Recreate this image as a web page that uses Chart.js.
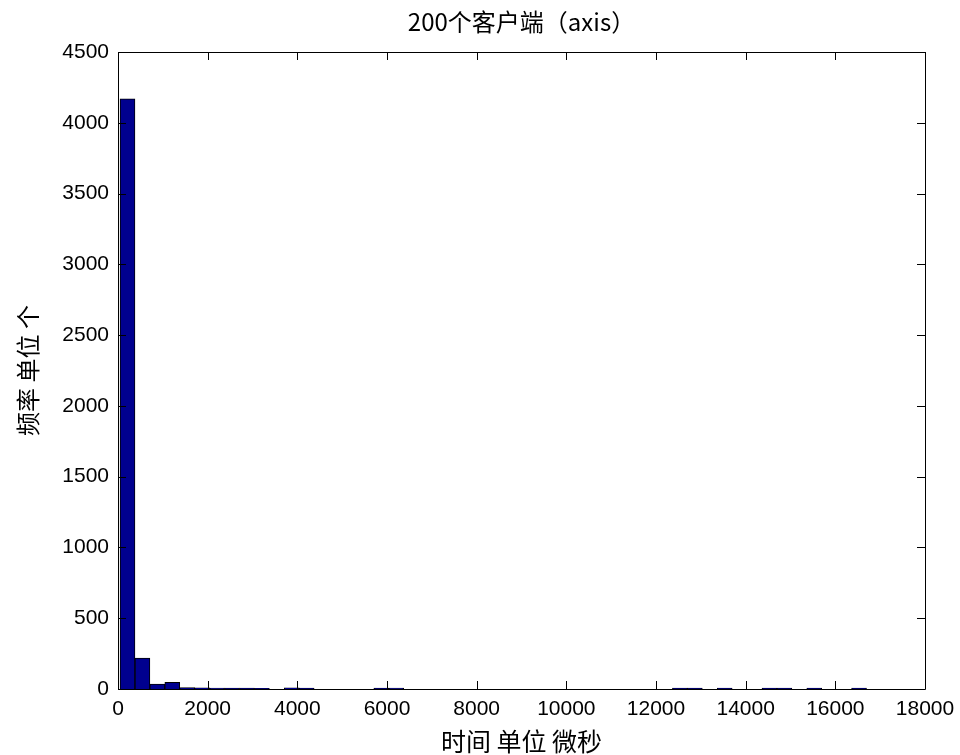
<html>
    <head>
        <title>200个客户端（axis）</title>
        <script src="https://cdn.jsdelivr.net/npm/chart.js"></script>
        <style>
            body {
                margin: 0;
                background: white;
            }
            #box {
                width: 960px;
                height: 755px;
            }
        </style>
    </head>
    <body>
        <div id="box">
            <canvas id="chart"></canvas>
        </div>
        <script>
            // bin centres (microseconds) of the 50 histogram bins
            const binCenters = [
                212, 545, 878, 1211, 1544, 1877, 2210, 2543, 2876, 3209,
                3542, 3875, 4208, 4541, 4874, 5207, 5540, 5873, 6206, 6539,
                6872, 7205, 7538, 7871, 8204, 8537, 8870, 9203, 9536, 9869,
                10202, 10535, 10868, 11201, 11534, 11867, 12200, 12533, 12866, 13199,
                13532, 13865, 14198, 14531, 14864, 15197, 15530, 15863, 16196, 16529
            ];
            // counts per bin
            const counts = [
                4170, 219, 35, 48, 10, 8, 7, 6, 6, 5,
                0, 8, 6, 0, 0, 0, 0, 6, 7, 0,
                0, 0, 0, 0, 0, 0, 0, 0, 0, 0,
                0, 0, 0, 0, 0, 0, 0, 6, 6, 0,
                6, 0, 0, 6, 6, 0, 6, 0, 0, 6
            ];
            const xTicks = [0, 2000, 4000, 6000, 8000, 10000, 12000, 14000, 16000, 18000];
            const yTicks = [0, 500, 1000, 1500, 2000, 2500, 3000, 3500, 4000, 4500];

            const tickFont = { family: '"Liberation Sans", Arial, sans-serif', size: 21 };
            const cjkFont = { family: '"Noto Sans CJK SC", sans-serif', size: 25 };

            // matlab style frame with ticks pointing inwards
            const framePlugin = {
                id: 'frame',
                afterDraw(chart) {
                    const ctx = chart.ctx;
                    const a = chart.chartArea;
                    const x = chart.scales.x;
                    const y = chart.scales.y;
                    const len = 8;
                    ctx.save();
                    ctx.strokeStyle = '#000';
                    ctx.lineWidth = 1;
                    ctx.beginPath();
                    ctx.rect(Math.round(a.left) + 0.5, Math.round(a.top) + 0.5,
                        Math.round(a.right - a.left), Math.round(a.bottom - a.top));
                    x.ticks.forEach(t => {
                        const px = Math.round(x.getPixelForValue(t.value)) + 0.5;
                        ctx.moveTo(px, a.bottom);
                        ctx.lineTo(px, a.bottom - len);
                        ctx.moveTo(px, a.top);
                        ctx.lineTo(px, a.top + len);
                    });
                    y.ticks.forEach(t => {
                        const py = Math.round(y.getPixelForValue(t.value)) + 0.5;
                        ctx.moveTo(a.left, py);
                        ctx.lineTo(a.left + len, py);
                        ctx.moveTo(a.right, py);
                        ctx.lineTo(a.right - len, py);
                    });
                    ctx.stroke();
                    ctx.restore();
                }
            };

            const data = {
                datasets: [{
                    label: 'count',
                    data: binCenters.map((c, i) => ({ x: c, y: counts[i] })),
                    backgroundColor: '#00008f',
                    borderColor: '#000',
                    borderWidth: 1,
                    barPercentage: 1,
                    categoryPercentage: 1
                }]
            };

            const config = {
                type: 'bar',
                data: data,
                plugins: [framePlugin],
                options: {
                    responsive: true,
                    maintainAspectRatio: false,
                    animation: false,
                    layout: {
                        padding: { left: 0, right: 35, top: 0, bottom: 0 }
                    },
                    plugins: {
                        legend: { display: false },
                        tooltip: { enabled: false },
                        title: {
                            display: true,
                            fullSize: false,
                            text: '200个客户端（axis）',
                            color: '#000',
                            font: { family: cjkFont.family, size: 24, weight: 'normal', lineHeight: 1 },
                            padding: { top: 10, bottom: 18 }
                        }
                    },
                    scales: {
                        x: {
                            type: 'linear',
                            min: 0,
                            max: 18000,
                            offset: false,
                            grid: { display: false, offset: false, drawTicks: false },
                            border: { display: false },
                            afterBuildTicks: s => { s.ticks = xTicks.map(v => ({ value: v })); },
                            afterFit: s => { s.height = 66; s.paddingLeft = 0; s.paddingRight = 0; },
                            ticks: {
                                color: '#000',
                                font: tickFont,
                                padding: 8,
                                maxRotation: 0,
                                callback: v => String(v)
                            },
                            title: {
                                display: true,
                                text: '时间 单位 微秒',
                                color: '#000',
                                font: { family: cjkFont.family, size: 25, lineHeight: 1.1 },
                                padding: { top: 0, bottom: 0 }
                            }
                        },
                        y: {
                            min: 0,
                            max: 4500,
                            grid: { display: false, drawTicks: false },
                            border: { display: false },
                            afterBuildTicks: s => { s.ticks = yTicks.map(v => ({ value: v })); },
                            afterFit: s => { s.width = 118; },
                            ticks: {
                                color: '#000',
                                font: tickFont,
                                padding: 9,
                                callback: v => String(v)
                            },
                            title: {
                                display: true,
                                text: '频率 单位 个',
                                color: '#000',
                                font: { family: cjkFont.family, size: 24, lineHeight: 1.1 },
                                padding: { top: 15, bottom: 0 }
                            }
                        }
                    }
                }
            };

            new Chart(document.getElementById('chart'), config);
        </script>
    </body>
</html>
